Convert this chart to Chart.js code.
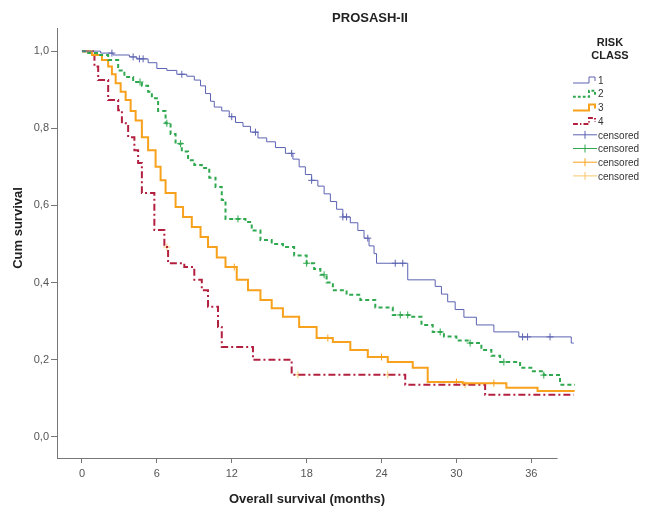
<!DOCTYPE html>
<html>
<head>
<meta charset="utf-8">
<script src="https://cdn.jsdelivr.net/npm/chart.js@4"></script>
<style>
  html, body { margin: 0; background: #fff; }
</style>
</head>
<body>
<canvas id="km" width="646" height="510"></canvas>
<script>
// =====================
// DATA
// =====================
const xTicks = [0, 6, 12, 18, 24, 30, 36];
const yTicks = [0, 0.2, 0.4, 0.6, 0.8, 1.0];
const classLabels = ["1", "2", "3", "4"];

// class 1
const t1 = [0,1.5,2.5,3.8,4.4,5.3,6.0,6.8,7.6,8.4,9.0,9.5,9.9,10.3,10.6,11.2,11.8,12.3,12.9,13.5,14.1,14.8,15.5,16.3,16.9,17.4,17.9,18.4,18.9,19.4,19.9,20.4,20.9,21.5,22.1,22.6,23.0,23.4,23.6,26.1,28.3,28.8,29.3,29.9,30.6,31.6,33.0,35.0,39.2,39.4];
const s1 = [1.0,0.995,0.99,0.985,0.98,0.97,0.955,0.95,0.94,0.935,0.925,0.91,0.89,0.87,0.855,0.845,0.83,0.815,0.805,0.79,0.775,0.765,0.75,0.735,0.72,0.70,0.68,0.665,0.65,0.63,0.61,0.59,0.57,0.555,0.535,0.515,0.495,0.475,0.45,0.407,0.39,0.37,0.35,0.33,0.31,0.29,0.272,0.259,0.243,0.243];
const c1 = [2.4,4.1,4.6,4.9,8.0,12.0,13.9,16.8,18.4,20.9,21.2,22.9,25.1,25.7,35.3,35.7,37.5];

// class 2
const t2 = [0,0.5,1.2,2.1,2.9,3.4,4.1,4.8,5.3,5.6,6.1,6.7,7.1,7.5,8.0,8.5,9.0,9.6,10.2,10.7,11.2,11.5,13.1,13.6,14.3,15.2,16.1,17.0,18.0,18.6,19.1,19.6,20.1,21.2,22.3,23.5,24.9,26.3,27.2,28.1,29.0,30.0,30.9,32.0,32.8,33.5,35.1,36.0,37.0,38.3,39.7];
const s2 = [1.0,0.995,0.99,0.977,0.95,0.933,0.92,0.91,0.895,0.878,0.845,0.813,0.785,0.76,0.74,0.717,0.705,0.697,0.672,0.648,0.614,0.565,0.557,0.535,0.51,0.50,0.492,0.47,0.45,0.435,0.42,0.40,0.38,0.368,0.355,0.335,0.316,0.311,0.29,0.272,0.26,0.25,0.243,0.225,0.21,0.194,0.179,0.17,0.16,0.135,0.132];
const c2 = [4.65,6.8,7.9,12.5,18.0,19.4,25.5,26.1,28.7,31.1,33.8,37.0];

// class 3
const t3 = [0,0.8,1.6,2.1,2.4,2.7,3.1,3.5,3.9,4.3,4.8,5.3,5.9,6.3,6.7,7.5,8.1,8.8,9.5,10.1,10.8,11.5,12.4,13.3,14.3,15.2,16.1,17.4,18.8,20.1,21.5,22.9,24.5,26.5,27.7,30.5,34.0,36.5,39.4];
const s3 = [1.0,0.99,0.977,0.96,0.94,0.917,0.895,0.873,0.845,0.82,0.777,0.743,0.70,0.665,0.632,0.596,0.57,0.544,0.518,0.492,0.465,0.44,0.407,0.38,0.355,0.333,0.311,0.285,0.256,0.246,0.225,0.207,0.194,0.179,0.142,0.139,0.127,0.119,0.117];
const c3 = [12.2,19.7,24.0,30.0,33.0];

// class 4
const t4 = [0,1.0,1.3,2.1,2.9,3.2,3.7,4.2,4.5,4.8,5.8,6.6,6.9,8.2,9.0,9.6,10.1,10.9,11.2,13.7,16.8,25.9,32.3,39.4];
const s4 = [1.0,0.96,0.925,0.873,0.847,0.813,0.777,0.743,0.71,0.632,0.536,0.492,0.45,0.44,0.407,0.38,0.337,0.285,0.233,0.2,0.161,0.135,0.109,0.109];
const c4 = [6.8,17.3,24.5,30.7];

// =====================
// STYLE
// =====================
const FONT = "'Liberation Sans', Arial, sans-serif";
const lineColors = ["#5c63b2", "#2fa84f", "#f7a11c", "#b3203f"];
const censorColors = ["#5c63b2", "#2fa84f", "#f7a11c", "#f8c66c"];
const dashes = [[], [4, 3], [], [7, 3, 2, 3]];
const widths = [1, 2, 2, 2];
const X_AXIS_END = 38.1; // where the drawn axis line stops

// =====================
// HELPERS
// =====================
function toPoints(t, s) {
  return t.map((x, i) => ({ x: x, y: s[i] }));
}
// survival value of a step curve at time c
function survAt(t, s, c) {
  let v = s[0];
  for (let i = 0; i < t.length; i++) { if (t[i] <= c) v = s[i]; }
  return v;
}

const curves = [[t1, s1, c1], [t2, s2, c2], [t3, s3, c3], [t4, s4, c4]];
const datasets = [];
curves.forEach(([t, s, c], k) => {
  datasets.push({
    type: "line",
    label: classLabels[k],
    data: toPoints(t, s),
    stepped: "before", // horizontal first, then drop
    borderColor: lineColors[k],
    borderWidth: widths[k],
    borderDash: dashes[k],
    pointRadius: 0,
    fill: false
  });
});
curves.forEach(([t, s, c], k) => {
  datasets.push({
    type: "scatter",
    label: "censored",
    data: c.map(x => ({ x: x, y: survAt(t, s, x) })),
    pointStyle: "cross",
    pointRadius: 3.5,
    borderColor: censorColors[k],
    borderWidth: 1,
    showLine: false
  });
});

// =====================
// TEXT + LEGEND + X AXIS LINE
// =====================
const decor = {
  id: "decor",
  afterDraw(chart) {
    const ctx = chart.ctx;
    const area = chart.chartArea;
    ctx.save();
    // x axis line (stops short of the right edge like the original)
    ctx.strokeStyle = "#777";
    ctx.lineWidth = 1;
    ctx.beginPath();
    ctx.moveTo(area.left, area.bottom + 0.5);
    ctx.lineTo(chart.scales.x.getPixelForValue(X_AXIS_END), area.bottom + 0.5);
    ctx.stroke();

    ctx.fillStyle = "#222";
    ctx.textAlign = "center";
    ctx.textBaseline = "middle";
    ctx.font = "bold 13px " + FONT;
    ctx.fillText("PROSASH-II", 370, 18);
    ctx.fillText("Overall survival (months)", 307, 499);
    ctx.save();
    ctx.translate(18, 228);
    ctx.rotate(-Math.PI / 2);
    ctx.fillText("Cum survival", 0, 0);
    ctx.restore();

    // legend
    ctx.font = "bold 11px " + FONT;
    ctx.fillText("RISK", 610, 43);
    ctx.fillText("CLASS", 610, 56);
    const x0 = 573, step = 13.7;
    ctx.font = "10px " + FONT;
    ctx.textAlign = "left";
    for (let k = 0; k < 4; k++) {
      const y = 80 + k * step;
      ctx.strokeStyle = lineColors[k];
      ctx.lineWidth = widths[k];
      ctx.setLineDash(dashes[k].map(d => d * 0.7));
      ctx.beginPath();
      ctx.moveTo(x0, y + 3);
      ctx.lineTo(x0 + 16, y + 3);
      ctx.lineTo(x0 + 16, y - 3);
      ctx.lineTo(x0 + 22, y - 3);
      ctx.lineTo(x0 + 22, y + 1);
      ctx.stroke();
      ctx.setLineDash([]);
      ctx.fillStyle = "#333";
      ctx.fillText(classLabels[k], 598, y + 1);
    }
    for (let k = 0; k < 4; k++) {
      const y = 80 + (k + 4) * step;
      ctx.strokeStyle = censorColors[k];
      ctx.lineWidth = 1;
      ctx.beginPath();
      ctx.moveTo(x0, y);
      ctx.lineTo(x0 + 24, y);
      ctx.moveTo(x0 + 12, y - 4);
      ctx.lineTo(x0 + 12, y + 4);
      ctx.stroke();
      ctx.fillStyle = "#333";
      ctx.fillText("censored", 598, y + 1);
    }
    ctx.restore();
  }
};

// =====================
// CHART
// =====================
new Chart(document.getElementById("km").getContext("2d"), {
  data: { datasets: datasets },
  options: {
    responsive: false,
    animation: false,
    devicePixelRatio: 1,
    layout: { padding: { top: 28, right: 71, left: 0, bottom: 0 } },
    plugins: { legend: { display: false }, tooltip: { enabled: false } },
    scales: {
      x: {
        type: "linear",
        min: -2,
        max: 39.5,
        afterBuildTicks: s => { s.ticks = xTicks.map(v => ({ value: v })); },
        afterFit: s => { s.height = 52; },
        grid: { drawOnChartArea: false, tickLength: 5, color: "#777" },
        border: { display: false },
        ticks: { color: "#555", padding: 4, font: { family: FONT, size: 11 } }
      },
      y: {
        type: "linear",
        min: -0.055,
        max: 1.06,
        afterBuildTicks: s => { s.ticks = yTicks.map(v => ({ value: v })); },
        afterFit: s => { s.width = 57; },
        grid: { drawOnChartArea: false, tickLength: 6, color: "#777" },
        border: { color: "#777" },
        ticks: {
          color: "#555",
          padding: 2,
          font: { family: FONT, size: 11 },
          callback: v => v.toFixed(1).replace(".", ",")
        }
      }
    }
  },
  plugins: [decor]
});
</script>
</body>
</html>
